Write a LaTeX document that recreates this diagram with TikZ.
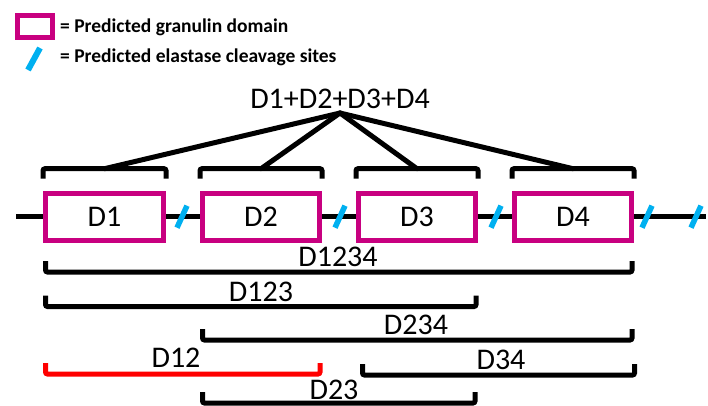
\documentclass[tikz,border=0pt]{standalone}
\usepackage{fontspec}
\setmainfont{Carlito}
\definecolor{gran}{RGB}{200,0,128}
\definecolor{cleave}{RGB}{0,176,240}
\definecolor{redb}{RGB}{255,0,0}
\newcommand{\fragbr}[4][black]{%
  \draw[brk, draw=#1] (#2,#4-11) -- (#2,#4) -- (#3,#4) -- (#3,#4-11);}
\begin{document}
\begin{tikzpicture}[x=1pt,y=-1pt,
  dom/.style={draw=gran, line width=5, fill=white, minimum width=118, minimum height=47, inner sep=0, font=\fontsize{30}{36}\selectfont},
  lbl/.style={inner sep=0, font=\fontsize{30}{36}\selectfont},
  legtext/.style={anchor=base west, inner sep=0, font=\bfseries\fontsize{19.5}{23}\selectfont},
  brk/.style={line width=5, rounded corners=2},
  cut/.style={draw=cleave, line width=5.5},
  spoke/.style={line width=5, line cap=round},
  backbone/.style={line width=5.5}
]
\useasboundingbox (0,0) rectangle (708,405);

% legend
\node[draw=gran, line width=5, minimum width=35, minimum height=22, inner sep=0] (leg1) at (35,26.5) {};
\node[legtext] (legt1) at (60,32) {= Predicted granulin domain};
\coordinate (leg2) at (34,59);
\draw[cut, line width=6] ([shift={(-6,11)}]leg2) -- ([shift={(6,-11)}]leg2);
\node[legtext] (legt2) at (60,62) {= Predicted elastase cleavage sites};

% backbone
\coordinate (L) at (16,216.7);
\coordinate (R) at (706,216.7);
\draw[backbone] (L) -- (R);

% domains
\node[dom] (d1) at (104.5,216.7) {D1};
\node[dom, minimum width=117] (d2) at (261,216.7) {D2};
\node[dom, minimum width=117] (d3) at (417,216.7) {D3};
\node[dom, minimum width=117] (d4) at (573,216.7) {D4};

% cleavage sites
\foreach \n/\x in {c1/182,c2/340,c3/496,c4/647,c5/696}{
  \coordinate (\n) at (\x,216.7);
  \draw[cut] ([shift={(-5,11)}]\n) -- ([shift={(5,-11)}]\n);
}

% top brackets
\foreach \d in {d1,d2,d3,d4}{
  \draw[brk] ([yshift=12]\d.north west) -- ([yshift=22]\d.north west) -- ([yshift=22]\d.north east) -- ([yshift=12]\d.north east);
  \coordinate (t\d) at ([yshift=22]\d.north);
}

% combined label and spokes
\node[lbl] (all) at (340,98.5) {D1+D2+D3+D4};
\coordinate (apex) at (340,113);
\foreach \d in {d1,d2,d3,d4}{
  \draw[spoke] (apex) -- (t\d);
}

% bottom brackets
\fragbr{45.5}{632}{272}
\node[lbl] (l1234) at (338,257) {D1234};
\fragbr{45.5}{476}{306.5}
\node[lbl] (l123) at (261,292) {D123};
\fragbr{202.5}{632}{340}
\node[lbl] (l234) at (416,325) {D234};
\fragbr[redb]{45.5}{320}{374}
\node[lbl] (l12) at (176,358) {D12};
\fragbr{362.5}{634.5}{375}
\node[lbl] (l34) at (501,360) {D34};
\fragbr{202.5}{475}{403}
\node[lbl] (l23) at (334,390) {D23};
\end{tikzpicture}
\end{document}
